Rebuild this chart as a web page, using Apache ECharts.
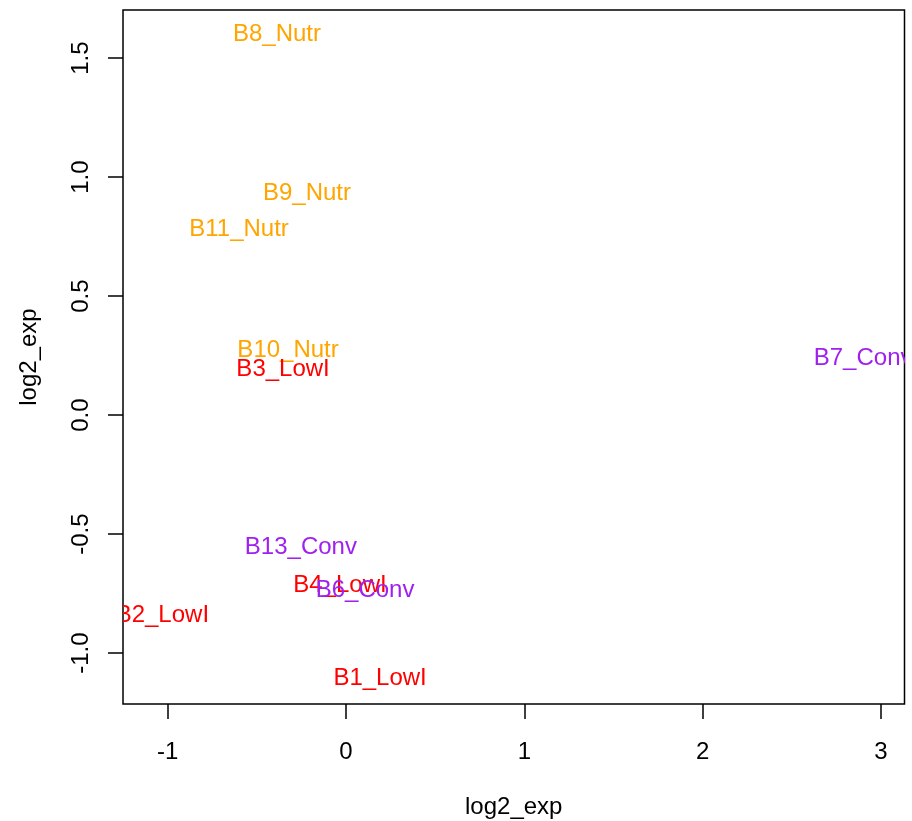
<!DOCTYPE html>
<html>
<head>
<meta charset="utf-8">
<script src="https://cdn.jsdelivr.net/npm/echarts@6/dist/echarts.min.js"></script>
<style>html,body{margin:0;padding:0;background:#fff;}#c{width:912px;height:821px;}</style>
</head>
<body>
<div id="c"></div>
<script>
const labels = ['B8_Nutr','B9_Nutr','B11_Nutr','B10_Nutr','B3_LowI','B7_Conv','B13_Conv','B4_LowI','B6_Conv','B2_LowI','B1_LowI'];
const xValues = [-0.387, -0.219, -0.600, -0.325, -0.353, 2.900, -0.253, -0.034, 0.107, -1.030, 0.191];
const yValues = [1.601, 0.933, 0.782, 0.271, 0.193, 0.240, -0.557, -0.716, -0.735, -0.840, -1.105];
const groups = ['Nutr','Nutr','Nutr','Nutr','LowI','Conv','Conv','LowI','Conv','LowI','LowI'];
const groupColors = {Nutr:'#FFA500', LowI:'#FF0000', Conv:'#A020F0'};
const xTicks = [-1, 0, 1, 2, 3];
const yTicks = [-1.0, -0.5, 0.0, 0.5, 1.0, 1.5];
const xRange = [-1.2507, 3.132];
const yRange = [-1.214, 1.702];

const FONT = 'Liberation Sans, Arial, Helvetica, sans-serif';
const FS = 24;
const data = labels.map((n, i) => [xValues[i], yValues[i], n, groups[i]]);

const chart = echarts.init(document.getElementById('c'), null, {renderer: 'canvas'});
chart.setOption({
  animation: false,
  backgroundColor: '#fff',
  grid: {left: 123, right: 7.5, top: 10, bottom: 117, show: true, borderColor: '#000', borderWidth: 1.5,
    backgroundColor: 'transparent', containLabel: false, outerBoundsMode: 'none'},
  xAxis: {
    type: 'value', min: xRange[0], max: xRange[1],
    name: 'log2_exp', nameLocation: 'middle', nameGap: 91,
    nameTextStyle: {fontFamily: FONT, fontSize: FS, color: '#000'},
    axisLine: {show: false, onZero: false},
    splitLine: {show: false},
    axisTick: {show: true, length: 15, lineStyle: {color: '#000', width: 1.5}, customValues: xTicks},
    axisLabel: {show: true, customValues: xTicks, margin: 36, fontFamily: FONT, fontSize: FS, color: '#000',
      formatter: v => String(v)}
  },
  yAxis: {
    type: 'value', min: yRange[0], max: yRange[1],
    name: 'log2_exp', nameLocation: 'middle', nameGap: 82,
    nameTextStyle: {fontFamily: FONT, fontSize: FS, color: '#000'},
    axisLine: {show: false, onZero: false},
    splitLine: {show: false},
    axisTick: {show: true, length: 15, lineStyle: {color: '#000', width: 1.5}, customValues: yTicks},
    axisLabel: {show: true, customValues: yTicks, rotate: 90, margin: 30, fontFamily: FONT, fontSize: FS, color: '#000',
      align: 'center', verticalAlign: 'bottom',
      formatter: v => v.toFixed(1)}
  },
  series: [{
    type: 'custom',
    clip: true,
    data: data,
    renderItem: function (params, api) {
      const p = api.coord([api.value(0), api.value(1)]);
      const idx = params.dataIndex;
      return {
        type: 'text',
        x: p[0], y: p[1],
        style: {
          text: data[idx][2],
          fill: groupColors[data[idx][3]],
          font: FS + 'px ' + FONT,
          align: 'center',
          verticalAlign: 'middle'
        }
      };
    }
  }]
});
</script>
</body>
</html>
